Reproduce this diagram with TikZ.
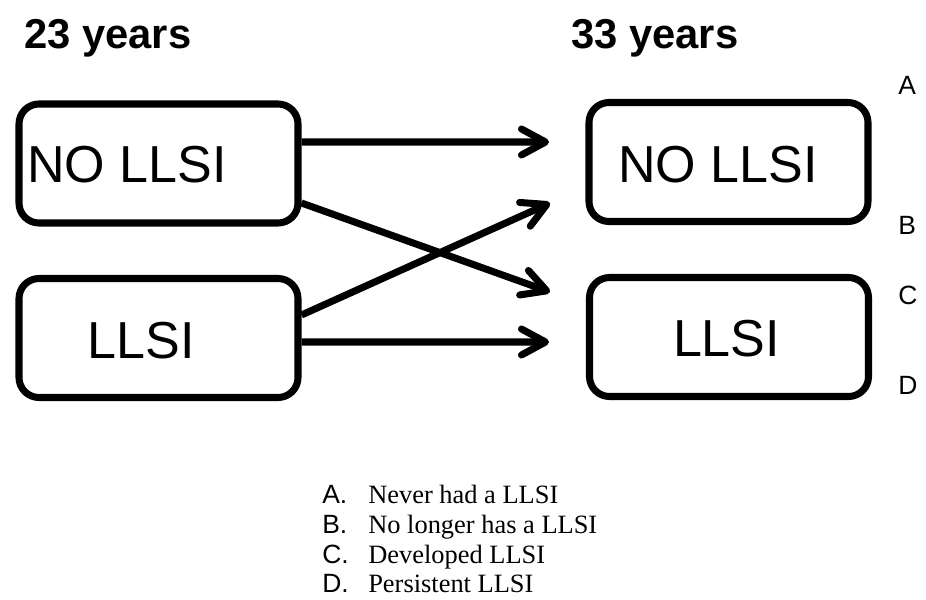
\documentclass[tikz,border=0pt]{standalone}
\usepackage{fontspec}
\setmainfont{Liberation Serif}
\setsansfont{Liberation Sans}
\usepackage{tikz}
\usetikzlibrary{positioning,arrows.meta}

\begin{document}
\begin{tikzpicture}[
    stage/.style={draw, line width=5pt, rounded corners=0.5cm,
      minimum width=6.975cm, minimum height=2.975cm, inner sep=0pt},
    stagetxt/.style={font=\sffamily\fontsize{37}{40}\selectfont, anchor=base, inner sep=0pt},
    hdr/.style={font=\sffamily\bfseries\fontsize{29.7}{32}\selectfont, anchor=base west, inner sep=0pt},
    flow/.style={line width=5pt, -{Straight Barb[length=0.6cm, width=0.65cm, round]}},
    tag/.style={font=\sffamily\fontsize{18.8}{22}\selectfont, anchor=base west, inner sep=0pt},
    key/.style={font=\fontsize{18.8}{22}\selectfont, anchor=base west, inner sep=0pt}
  ]
  \useasboundingbox (0,0) rectangle (23.15,-14.975);

  % ---------- ages ----------------------------------------------------
  \node[hdr] (age23) at (0.6,-1.2) {23 years};
  \node[hdr] (age33) at (14.275,-1.2) {33 years};

  % ---------- etat a 23 ans -------------------------------------------
  \node[stage] (lno)  at (3.9625,-4.0875) {};
  \node[stage] (lyes) at (3.9625,-8.45) {};
  \node[stagetxt] (lnotxt)  at (3.175,-4.55) {NO LLSI};
  \node[stagetxt] (lyestxt) at (3.5375,-8.95) {LLSI};

  % ---------- etat a 33 ans -------------------------------------------
  \node[stage] (rno)  at (18.2125,-4.05) {};
  \node[stage] (ryes) at (18.225,-8.425) {};
  \node[stagetxt] (rnotxt)  at (17.95,-4.55) {NO LLSI};
  \node[stagetxt] (ryestxt) at (18.1625,-8.9) {LLSI};

  % ---------- transitions ---------------------------------------------
  \coordinate (tipA) at (13.725,-3.55);
  \coordinate (tipB) at (13.75,-7.3);
  \coordinate (tipC) at (13.75,-5.075);
  \coordinate (tipD) at (13.725,-8.55);
  \draw[flow] ([yshift=0.5375cm]lno.east) -- (tipA);
  \draw[flow] ([yshift=-0.9875cm]lno.east) -- (tipB);
  \draw[flow] ([yshift=0.575cm]lyes.east) -- (tipC);
  \draw[flow] ([yshift=-0.1cm]lyes.east) -- (tipD);

  \node[tag] (tA) at (22.45,-2.35) {A};
  \node[tag] (tB) at (22.45,-5.85) {B};
  \node[tag] (tC) at (22.45,-7.6) {C};
  \node[tag] (tD) at (22.45,-9.85) {D};

  % ---------- legende -------------------------------------------------
  \node[key] (keyA) at (8.05,-12.575) {\makebox[1.15cm][l]{\sffamily A.}Never had a LLSI};
  \node[key] (keyB) at (8.05,-13.325) {\makebox[1.15cm][l]{\sffamily B.}No longer has a LLSI};
  \node[key] (keyC) at (8.05,-14.075) {\makebox[1.15cm][l]{\sffamily C.}Developed LLSI};
  \node[key] (keyD) at (8.05,-14.8) {\makebox[1.15cm][l]{\sffamily D.}Persistent LLSI};

\end{tikzpicture}
\end{document}
